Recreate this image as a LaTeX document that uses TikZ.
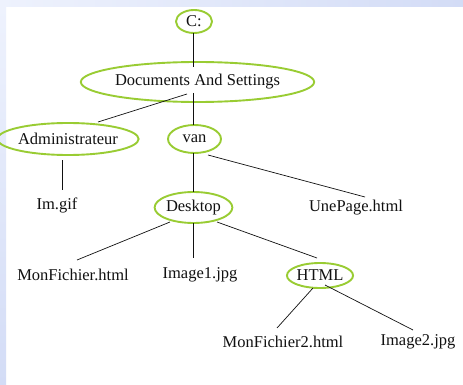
\documentclass[tikz,border=0pt]{standalone}
\usepackage{fontspec}
\setmainfont{Liberation Serif}
\usetikzlibrary{shapes.geometric,calc}
\definecolor{folder}{HTML}{99CC33}
\definecolor{bgA}{HTML}{EEF2FD}
\definecolor{bgB}{HTML}{D3DCF6}
\definecolor{ink}{HTML}{111111}
\begin{document}
\begin{tikzpicture}[x=1pt,y=-1pt,
  every node/.style={font=\fontsize{16.5}{18}\selectfont, text=ink, inner sep=0pt},
  folderbox/.style={ellipse, draw=folder, line width=1.9pt, inner sep=0pt},
  filebox/.style={inner sep=2pt},
  link/.style={draw=ink, line width=0.7pt}]
\useasboundingbox (0,0) rectangle (463,385);
\fill[white] (0,0) rectangle (463,385);
\shade[left color=bgA, right color=bgB] (0,0) rectangle (463,7);
\shade[top color=bgA, bottom color=bgB] (0,7) rectangle (6,385);

\node[folderbox, minimum width=36pt, minimum height=23pt] (c) at (194,21.5) {C:};
\node[folderbox, minimum width=182pt, minimum height=40pt] (das) at (197.5,82) {Documents And Settings};
\node[folderbox, minimum width=110pt, minimum height=32pt] (admin) at (68,139) {Administrateur};
\node[folderbox, minimum width=53pt, minimum height=28pt] (van) at (194.5,139) {van};
\node[filebox] (imgif) at (57,205) {Im.gif};
\node[folderbox, minimum width=69pt, minimum height=31pt] (desk) at (193.5,207.5) {Desktop};
\node[filebox] (une) at (356,208) {UnePage.html};
\node[filebox] (monf) at (73,275) {MonFichier.html};
\node[filebox] (img1) at (200,275) {Image1.jpg};
\node[folderbox, minimum width=64pt, minimum height=25pt] (html) at (320,275.5) {HTML};
\node[filebox] (monf2) at (283,342) {MonFichier2.html};
\node[filebox] (img2) at (418,342) {Image2.jpg};

\draw[link] ($(c.center)+(-1,11.5)$) -- ($(das.center)+(-4.5,-15)$);
\draw[link] ($(das.center)+(-10.5,12)$) -- ($(admin.center)+(30,-17)$);
\draw[link] ($(das.center)+(-4.5,11)$) -- ($(van.center)+(-1.5,-14)$);
\draw[link] ($(admin.center)+(-6,21)$) -- ($(imgif.center)+(5,-15)$);
\draw[link] ($(van.center)+(-1.5,14)$) -- ($(desk.center)+(-0.5,-15.5)$);
\draw[link] ($(van.center)+(13.5,16)$) -- ($(une.center)+(9,-11)$);
\draw[link] ($(desk.center)+(-23.5,14.5)$) -- ($(monf.center)+(4,-15)$);
\draw[link] ($(desk.center)+(-0.5,15.5)$) -- ($(img1.center)+(-7,-17)$);
\draw[link] ($(desk.center)+(23.5,14.5)$) -- ($(html.center)+(-3,-17.5)$);
\draw[link] ($(html.center)+(-7,12.5)$) -- ($(monf2.center)+(-6,-14)$);
\draw[link] ($(html.center)+(5,9.5)$) -- ($(img2.center)+(-5,-12)$);
\end{tikzpicture}
\end{document}
